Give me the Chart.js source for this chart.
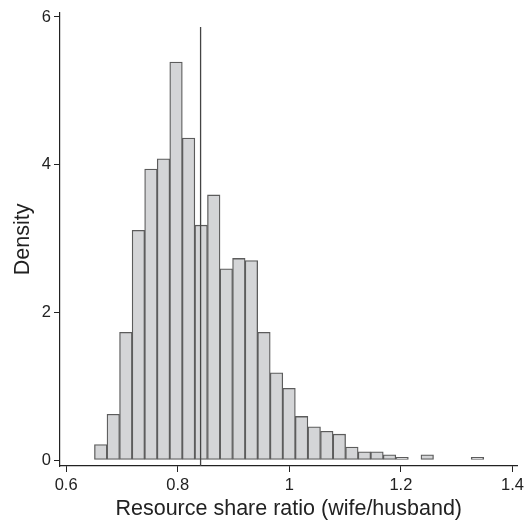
<!DOCTYPE html>
<html>
<head>
<meta charset="utf-8">
<script src="https://cdn.jsdelivr.net/npm/chart.js@4"></script>
<style>
  html, body { margin: 0; padding: 0; background: #fff; }
  #wrap { width: 528px; height: 523px; }
</style>
</head>
<body>
<div id="wrap"><canvas id="myChart"></canvas></div>
<script>
// bin centres (width ~0.0225) and density heights
var binCenters = [0.6620, 0.6845, 0.7070, 0.7295, 0.7520, 0.7745, 0.7970, 0.8195,
                  0.8420, 0.8646, 0.8871, 0.9096, 0.9321, 0.9546, 0.9771, 0.9996,
                  1.0221, 1.0447, 1.0672, 1.0897, 1.1122, 1.1347, 1.1572, 1.1797,
                  1.2022, 1.2248, 1.2473, 1.2698, 1.2923, 1.3148, 1.3373];
var density = [0.21, 0.62, 1.73, 3.11, 3.94, 4.08, 5.39, 4.36,
               3.18, 3.59, 2.59, 2.73, 2.70, 1.73, 1.18, 0.97,
               0.59, 0.45, 0.39, 0.35, 0.175, 0.11, 0.11, 0.07,
               0.036, null, 0.07, null, null, null, 0.036];
var refLineX = 0.841;
var refLineY = [-0.08, 5.865];
var xTicks = [0.6, 0.8, 1, 1.2, 1.4];
var yTicks = [0, 2, 4, 6];

var bars = binCenters.map(function (x, i) { return { x: x, y: density[i] }; });
var refLine = refLineY.map(function (y) { return { x: refLineX, y: y }; });

var font = "'Liberation Sans', Arial, sans-serif";
var ctx = document.getElementById('myChart').getContext('2d');

var myChart = new Chart(ctx, {
  data: {
    datasets: [{
      type: 'bar',
      data: bars,
      backgroundColor: '#d4d5d7',
      borderColor: '#5c5c5c',
      borderWidth: 1.3,
      borderSkipped: false,
      barPercentage: 1,
      categoryPercentage: 1,
      order: 2
    }, {
      type: 'line',
      data: refLine,
      borderColor: '#444',
      borderWidth: 1.3,
      pointRadius: 0,
      fill: false,
      order: 1
    }]
  },
  options: {
    responsive: true,
    maintainAspectRatio: false,
    animation: false,
    layout: { padding: { top: 0, right: 10, left: 0, bottom: 0 } },
    plugins: { legend: { display: false }, tooltip: { enabled: false } },
    scales: {
      x: {
        type: 'linear',
        offset: false,
        min: 0.589,
        max: 1.409,
        afterBuildTicks: function (s) { s.ticks = xTicks.map(function (v) { return { value: v }; }); },
        afterFit: function (s) { s.height = 57; },
        grid: { display: true, offset: false, drawOnChartArea: false, drawTicks: true, tickLength: 6, color: '#222' },
        border: { display: true, color: '#222', width: 1.2 },
        ticks: {
          color: '#222', padding: 4, maxRotation: 0, autoSkip: false,
          font: { family: font, size: 16.5 },
          callback: function (v) { return String(+v.toFixed(1)); }
        },
        title: {
          display: true, text: 'Resource share ratio (wife/husband)', color: '#222',
          font: { family: font, size: 21.5 }, padding: { top: 0, bottom: 1 }
        }
      },
      y: {
        type: 'linear',
        min: -0.081,
        max: 6.055,
        afterBuildTicks: function (s) { s.ticks = yTicks.map(function (v) { return { value: v }; }); },
        afterFit: function (s) { s.width = 60; },
        grid: { display: true, drawOnChartArea: false, drawTicks: true, tickLength: 6, color: '#222' },
        border: { display: true, color: '#222', width: 1.2 },
        ticks: {
          color: '#222', padding: 3,
          font: { family: font, size: 16.5 },
          callback: function (v) { return String(v); }
        },
        title: {
          display: true, text: 'Density', color: '#222',
          font: { family: font, size: 21.5 }, padding: { top: 10, bottom: 0 }
        }
      }
    }
  }
});
</script>
</body>
</html>
